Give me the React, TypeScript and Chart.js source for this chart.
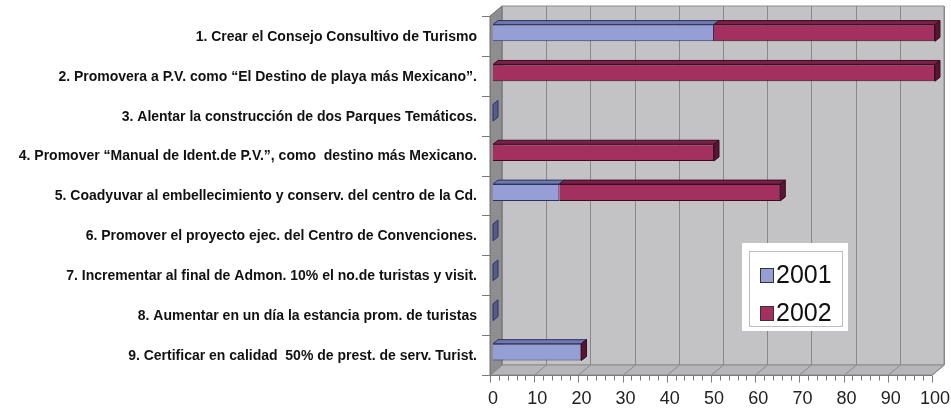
import React, { useEffect, useRef } from "react";
import { Chart, registerables } from "chart.js";

Chart.register(...registerables);

const categories = [
  "1. Crear el Consejo Consultivo de Turismo",
  "2. Promovera a P.V. como “El Destino de playa más Mexicano”.",
  "3. Alentar la construcción de dos Parques Temáticos.",
  "4. Promover “Manual de Ident.de P.V.”, como  destino más Mexicano.",
  "5. Coadyuvar al embellecimiento y conserv. del centro de la Cd.",
  "6. Promover el proyecto ejec. del Centro de Convenciones.",
  "7. Incrementar al final de Admon. 10% el no.de turistas y visit.",
  "8. Aumentar en un día la estancia prom. de turistas",
  "9. Certificar en calidad  50% de prest. de serv. Turist.",
];
const series2001 = [50, 0, 0, 0, 15, 0, 0, 0, 20];
const series2002 = [50, 100, 0, 50, 50, 0, 0, 0, 0];
const seriesLabels = ["2001", "2002"];
const xMin = 0;
const xMax = 100;
const xStep = 10;
const xMinorStep = 2;

const FRONT = { dx: -3, dy: 3 };
const BACK = { dx: 9, dy: -7 };
const BAR_DEPTH = { dx: 5, dy: -4 };
const FRONT_COLORS = ["#969fd5", "#a3305f"];
const TOP_COLORS = ["#6f77ad", "#7a2148"];
const SIDE_COLORS = ["#555b8c", "#5a1434"];
const EDGE_COLORS = ["#2e3260", "#3a0c22"];

const backgroundPlugin = {
  id: "box3d",
  beforeDatasetsDraw(chart: any) {
    const ctx = chart.ctx;
    const ca = chart.chartArea;
    const xs = chart.scales.x;
    const p0 = xs.getPixelForValue(xMin);
    const p1 = xs.getPixelForValue(xMax);
    const top = ca.top;
    const bottom = ca.bottom;
    ctx.save();
    const poly = (pts: number[][], fill: string, stroke: string) => {
      ctx.beginPath();
      ctx.moveTo(pts[0][0], pts[0][1]);
      for (let i = 1; i < pts.length; i++) ctx.lineTo(pts[i][0], pts[i][1]);
      ctx.closePath();
      ctx.fillStyle = fill;
      ctx.fill();
      ctx.strokeStyle = stroke;
      ctx.lineWidth = 1;
      ctx.stroke();
    };
    poly(
      [
        [p0 + BACK.dx, top + BACK.dy],
        [p1 + BACK.dx, top + BACK.dy],
        [p1 + BACK.dx, bottom + BACK.dy],
        [p0 + BACK.dx, bottom + BACK.dy],
      ],
      "#c3c3c6",
      "#8a8a8c"
    );
    poly(
      [
        [p0 + FRONT.dx, top + FRONT.dy],
        [p0 + BACK.dx, top + BACK.dy],
        [p0 + BACK.dx, bottom + BACK.dy],
        [p0 + FRONT.dx, bottom + FRONT.dy],
      ],
      "#8e8e90",
      "#6e6e70"
    );
    poly(
      [
        [p0 + FRONT.dx, bottom + FRONT.dy],
        [p1 + FRONT.dx, bottom + FRONT.dy],
        [p1 + BACK.dx, bottom + BACK.dy],
        [p0 + BACK.dx, bottom + BACK.dy],
      ],
      "#b6b6b8",
      "#8a8a8c"
    );
    ctx.strokeStyle = "#88888a";
    ctx.lineWidth = 1;
    for (let v = xMin; v <= xMax; v += xStep) {
      const p = Math.round(xs.getPixelForValue(v)) + 0.5;
      ctx.beginPath();
      ctx.moveTo(p + BACK.dx, top + BACK.dy);
      ctx.lineTo(p + BACK.dx, bottom + BACK.dy);
      ctx.lineTo(p + FRONT.dx, bottom + FRONT.dy);
      ctx.stroke();
    }
    const fy = Math.round(bottom + FRONT.dy) + 0.5;
    ctx.strokeStyle = "#7a7a7a";
    ctx.beginPath();
    ctx.moveTo(p0 + FRONT.dx, fy);
    ctx.lineTo(p1 + FRONT.dx, fy);
    ctx.stroke();
    for (let v = xMin; v <= xMax + 1e-9; v += xMinorStep) {
      const p = Math.round(xs.getPixelForValue(v) + FRONT.dx) + 0.5;
      const major = Math.abs(v / xStep - Math.round(v / xStep)) < 1e-6;
      ctx.beginPath();
      ctx.moveTo(p, fy);
      ctx.lineTo(p, fy + (major ? 7 : 5));
      ctx.stroke();
    }
    const n = chart.data.labels.length;
    const band = (bottom - top) / n;
    const lx = Math.round(p0 + FRONT.dx);
    ctx.beginPath();
    ctx.moveTo(lx + 0.5, top + FRONT.dy);
    ctx.lineTo(lx + 0.5, bottom + FRONT.dy);
    ctx.stroke();
    for (let k = 0; k <= n; k++) {
      const y = Math.round(top + k * band + FRONT.dy) + 0.5;
      ctx.beginPath();
      ctx.moveTo(lx - 8, y);
      ctx.lineTo(lx, y);
      ctx.stroke();
    }
    ctx.restore();
  },
  afterDatasetsDraw(chart: any) {
    const ctx = chart.ctx;
    const nDs = chart.data.datasets.length;
    ctx.save();
    ctx.lineWidth = 1;
    for (let d = 0; d < nDs; d++) {
      const meta = chart.getDatasetMeta(d);
      const data = chart.data.datasets[d].data as number[];
      meta.data.forEach((el: any, i: number) => {
        const { x, y, base, height } = el.getProps(["x", "y", "base", "height"], true);
        const left = Math.min(x, base);
        const right = Math.max(x, base);
        const v = data[i];
        const startVal = chart.data.datasets
          .slice(0, d)
          .reduce((s: number, ds: any) => s + (ds.data[i] as number), 0);
        if (!(v > 0 || startVal > 0 || d === 0)) return;
        const t = y - height / 2;
        const b = y + height / 2;
        if (right > left) {
          ctx.beginPath();
          ctx.moveTo(left, t);
          ctx.lineTo(left + BAR_DEPTH.dx, t + BAR_DEPTH.dy);
          ctx.lineTo(right + BAR_DEPTH.dx, t + BAR_DEPTH.dy);
          ctx.lineTo(right, t);
          ctx.closePath();
          ctx.fillStyle = TOP_COLORS[d];
          ctx.fill();
          ctx.strokeStyle = EDGE_COLORS[d];
          ctx.stroke();
        }
        let laterNonZero = false;
        for (let k = d + 1; k < nDs; k++) {
          if ((chart.data.datasets[k].data[i] as number) > 0) laterNonZero = true;
        }
        if (!laterNonZero) {
          ctx.beginPath();
          ctx.moveTo(right, t);
          ctx.lineTo(right + BAR_DEPTH.dx, t + BAR_DEPTH.dy);
          ctx.lineTo(right + BAR_DEPTH.dx, b + BAR_DEPTH.dy);
          ctx.lineTo(right, b);
          ctx.closePath();
          ctx.fillStyle = SIDE_COLORS[d];
          ctx.fill();
          ctx.strokeStyle = EDGE_COLORS[d];
          ctx.stroke();
        }
      });
    }
    ctx.restore();
  },
  afterDraw(chart: any) {
    const ctx = chart.ctx;
    ctx.save();
    ctx.fillStyle = "#ffffff";
    ctx.fillRect(742, 243, 106, 88);
    ctx.strokeStyle = "#bdbdbd";
    ctx.lineWidth = 1;
    ctx.strokeRect(749.5, 251.5, 93, 75);
    ctx.font = "25px 'Liberation Sans', Arial, sans-serif";
    ctx.textBaseline = "middle";
    chart.data.datasets.forEach((ds: any, i: number) => {
      const cy = 275 + i * 38;
      ctx.fillStyle = ds.backgroundColor;
      ctx.fillRect(760, cy - 7, 14, 15);
      ctx.strokeStyle = "#333";
      ctx.strokeRect(760.5, cy - 6.5, 13, 14);
      ctx.fillStyle = "#111";
      ctx.fillText(ds.label, 776, cy + 1);
    });
    ctx.restore();
  },
};

export default function App() {
  const ref = useRef<HTMLCanvasElement | null>(null);
  useEffect(() => {
    if (!ref.current) return;
    const chart = new Chart(ref.current, {
      type: "bar",
      data: {
        labels: categories,
        datasets: [
          {
            label: seriesLabels[0],
            data: series2001,
            backgroundColor: FRONT_COLORS[0],
            borderColor: EDGE_COLORS[0],
            borderWidth: 1,
            barPercentage: 0.42,
            categoryPercentage: 1,
          },
          {
            label: seriesLabels[1],
            data: series2002,
            backgroundColor: FRONT_COLORS[1],
            borderColor: EDGE_COLORS[1],
            borderWidth: 1,
            barPercentage: 0.42,
            categoryPercentage: 1,
          },
        ],
      },
      options: {
        indexAxis: "y",
        responsive: false,
        animation: false,
        layout: { padding: { top: 13, right: 16, left: 0, bottom: 0 } },
        plugins: {
          legend: { display: false },
          tooltip: { enabled: false },
        },
        scales: {
          x: {
            stacked: true,
            min: xMin,
            max: xMax,
            border: { display: false },
            grid: { display: false, drawTicks: false },
            ticks: {
              stepSize: xStep,
              padding: 16,
              color: "#222",
              font: { family: "'Liberation Sans', Arial, sans-serif", size: 18 },
              maxRotation: 0,
              autoSkip: false,
            },
            afterFit: (s: any) => {
              s.height = 43;
              s.paddingLeft = 0;
              s.paddingRight = 0;
            },
          },
          y: {
            stacked: true,
            border: { display: false },
            grid: { display: false, drawTicks: false },
            ticks: {
              padding: 16,
              labelOffset: 4,
              color: "#111",
              autoSkip: false,
              font: { family: "'Liberation Sans', Arial, sans-serif", size: 14, weight: "bold" },
            },
            afterFit: (s: any) => {
              s.width = 493;
              s.paddingTop = 0;
              s.paddingBottom = 0;
            },
          },
        },
      },
      plugins: [backgroundPlugin],
    });
    return () => chart.destroy();
  }, []);
  return (
    <div style={{ position: "absolute", left: 0, top: 0, width: 951, height: 415, background: "#fff" }}>
      <canvas ref={ref} width={951} height={415} style={{ display: "block" }} />
    </div>
  );
}
